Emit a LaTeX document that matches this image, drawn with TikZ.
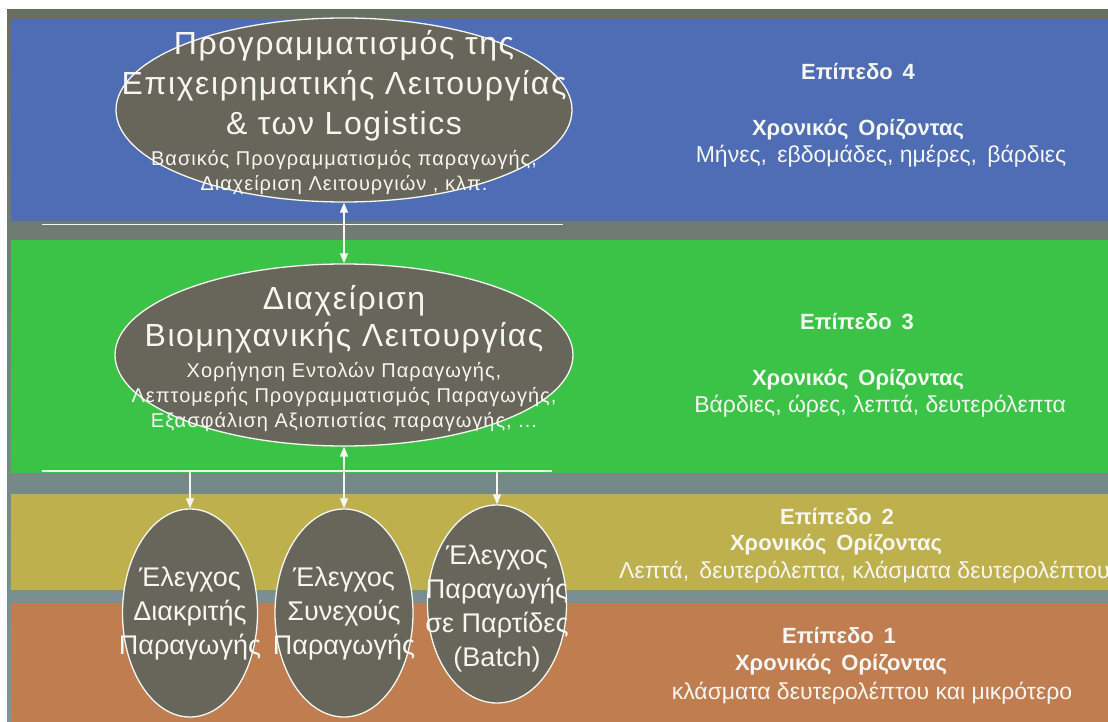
\documentclass[tikz,border=0pt]{standalone}
\usepackage{fontspec}
\setmainfont{Liberation Sans}
\newfontfamily\unitfont[LetterSpace=5]{Liberation Sans}
\newfontfamily\notefont[LetterSpace=5]{Liberation Sans}
\usetikzlibrary{shapes.geometric,arrows.meta}

\definecolor{frametop}{HTML}{6A6E61}
\definecolor{framebot}{HTML}{7B979B}
\definecolor{lvlfour}{HTML}{4F6DB5}
\definecolor{lvlthree}{HTML}{3BC348}
\definecolor{lvltwo}{HTML}{BFB04E}
\definecolor{lvlone}{HTML}{C07E50}
\definecolor{unitfill}{HTML}{66665A}
\definecolor{ink}{HTML}{F6F6F2}

\newcommand{\gap}{\hspace{0.45em}}

\begin{document}
\begin{tikzpicture}[x=1pt,y=-1pt,
  unit/.style={ellipse, draw=ink, line width=1.3pt, fill=unitfill, inner sep=0pt},
  title/.style={text=ink, align=center, inner sep=0pt, font=\unitfont\fontsize{32}{40}\selectfont},
  subtitle/.style={text=ink, align=center, inner sep=0pt, font=\notefont\fontsize{20}{25}\selectfont},
  leaf/.style={text=ink, align=center, inner sep=0pt, font=\fontsize{27}{34}\selectfont},
  lvlhead/.style={text=ink, inner sep=0pt, font=\fontsize{22}{26}\selectfont\bfseries},
  lvlspan/.style={text=ink, inner sep=0pt, font=\fontsize{23}{27}\selectfont},
  bus/.style={draw=ink, line width=1.4pt},
  link/.style={draw=ink, line width=1.3pt, -{Triangle[length=10pt,width=8pt]}},
  dlink/.style={draw=ink, line width=1.3pt, {Triangle[length=10pt,width=8pt]}-{Triangle[length=10pt,width=8pt]}}
]
\useasboundingbox (0,0) rectangle (1108,722);
\clip (0,0) rectangle (1108,722);
\fill[white] (0,0) rectangle (1108,722);

% frame behind the level bands
\shade[top color=frametop, bottom color=framebot] (7,10) rectangle (1108,722);

% level bands
\fill[lvlfour]  (11,19)  rectangle (1108,221);
\fill[lvlthree] (11,240) rectangle (1108,473);
\fill[lvltwo]   (11,494) rectangle (1108,590);
\fill[lvlone]   (11,603) rectangle (1108,722);

% separator lines
\coordinate (topL) at (42,224.5);
\coordinate (topR) at (563,224.5);
\draw[bus] (topL) -- (topR);
\coordinate (busL) at (42,471);
\coordinate (busR) at (552,471);
\draw[bus] (busL) -- (busR);
\coordinate (tapA) at (190,471);
\coordinate (tapC) at (497,471);

% level 4 unit
\node[unit, minimum width=456pt, minimum height=184pt] (plan) at (344,110) {};
\node[title] (planT) at (344,86) {Προγραμματισμός της\\Επιχειρηματικής Λειτουργίας\\\& των Logistics};
\node[subtitle] (planS) at (344,173) {Βασικός Προγραμματισμός παραγωγής,\\Διαχείριση Λειτουργιών , κλπ.};

% level 3 unit
\node[unit, minimum width=458pt, minimum height=182pt] (ops) at (344,355) {};
\node[title, font=\unitfont\fontsize{32}{37}\selectfont] (opsT) at (344,319) {Διαχείριση\\Βιομηχανικής Λειτουργίας};
\node[subtitle] (opsS) at (344,397) {Χορήγηση Εντολών Παραγωγής,\\Λεπτομερής Προγραμματισμός Παραγωγής,\\Εξασφάλιση Αξιοπιστίας παραγωγής, ...};

% level 1-2 units
\node[unit, minimum width=135pt, minimum height=208pt] (disc) at (190,613) {};
\node[leaf] (discT) at (190,614) {Έλεγχος\\Διακριτής\\Παραγωγής};
\node[unit, minimum width=138pt, minimum height=208pt] (cont) at (344,613) {};
\node[leaf] (contT) at (344,614) {Έλεγχος\\Συνεχούς\\Παραγωγής};
\node[unit, minimum width=139pt, minimum height=198pt] (batch) at (497,604) {};
\node[leaf] (batchT) at (497,609) {Έλεγχος\\Παραγωγής\\σε Παρτίδες\\(Batch)};

% connectors
\draw[dlink] (plan) -- (ops);
\draw[dlink] (ops) -- (cont);
\draw[link] (tapA) -- (disc);
\draw[link] (tapC) -- (batch);

% level captions
\node[lvlhead] (l4a) at (858,72)  {Επίπεδο\gap 4};
\node[lvlhead] (l4b) at (858,130) {Χρονικός\gap Ορίζοντας};
\node[lvlspan] (l4c) at (881,156) {Μήνες,\gap εβδομάδες, ημέρες,\gap βάρδιες};

\node[lvlhead] (l3a) at (857,322) {Επίπεδο\gap 3};
\node[lvlhead] (l3b) at (858,380) {Χρονικός\gap Ορίζοντας};
\node[lvlspan] (l3c) at (880,406) {Βάρδιες, ώρες, λεπτά, δευτερόλεπτα};

\node[lvlhead] (l2a) at (837,517) {Επίπεδο\gap 2};
\node[lvlhead] (l2b) at (836,545) {Χρονικός\gap Ορίζοντας};
\node[lvlspan, anchor=west] (l2c) at (619,572) {Λεπτά,\gap δευτερόλεπτα, κλάσματα δευτερολέπτου};

\node[lvlhead] (l1a) at (839,636) {Επίπεδο\gap 1};
\node[lvlhead] (l1b) at (841,665) {Χρονικός\gap Ορίζοντας};
\node[lvlspan] (l1c) at (872,693) {κλάσματα δευτερολέπτου και μικρότερο};
\end{tikzpicture}
\end{document}
